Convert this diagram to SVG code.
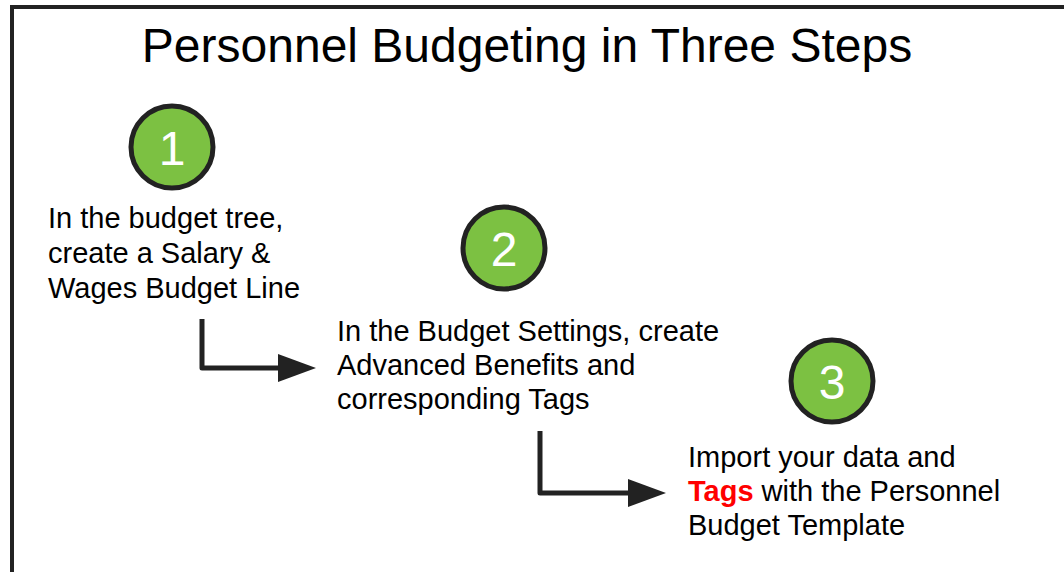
<svg xmlns="http://www.w3.org/2000/svg" width="1064" height="572" viewBox="0 0 1064 572">
  <style>
    .title { font-family: "Liberation Sans", Arial, sans-serif; font-size: 48px; fill: #000; }
    .label { font-family: "Liberation Sans", Arial, sans-serif; font-size: 29px; fill: #000; }
    .num { font-family: "Liberation Sans", Arial, sans-serif; font-size: 48px; fill: #fff; text-anchor: middle; }
    .badge { fill: #7cc142; stroke: #222; stroke-width: 5; }
    .conn { fill: none; stroke: #222; stroke-width: 5; stroke-linejoin: round; }
    .tag { fill: #ff0000; font-weight: bold; }
  </style>
  <defs>
    <marker id="arrow" markerUnits="userSpaceOnUse" markerWidth="40" markerHeight="30" refX="2" refY="14" orient="auto">
      <path d="M0,0 L38,14 L0,28 Z" fill="#222"/>
    </marker>
  </defs>

  <rect width="1064" height="572" fill="#fff"/>
  <!-- frame, open to the right and bottom -->
  <rect x="12" y="7" width="1080" height="600" fill="none" stroke="#222" stroke-width="4"/>

  <text class="title" x="527" y="62" text-anchor="middle">Personnel Budgeting in Three Steps</text>

  <g id="step1">
    <circle class="badge" cx="172" cy="147" r="41"/>
    <text class="num" x="172" y="165">1</text>
    <text class="label" x="48" y="228">In the budget tree,</text>
    <text class="label" x="48" y="263">create a Salary &amp;</text>
    <text class="label" x="48" y="298">Wages Budget Line</text>
  </g>

  <g id="step2">
    <circle class="badge" cx="504" cy="248" r="41"/>
    <text class="num" x="504" y="266">2</text>
    <text class="label" x="337" y="341">In the Budget Settings, create</text>
    <text class="label" x="337" y="375">Advanced Benefits and</text>
    <text class="label" x="337" y="409">corresponding Tags</text>
  </g>

  <g id="step3">
    <circle class="badge" cx="832" cy="381" r="41"/>
    <text class="num" x="832" y="399">3</text>
    <text class="label" x="688" y="467">Import your data and</text>
    <text class="label" x="688" y="501"><tspan class="tag">Tags</tspan> with the Personnel</text>
    <text class="label" x="688" y="535">Budget Template</text>
  </g>

  <g id="connectors">
    <path class="conn" d="M202,319 L202,368 L280,368" marker-end="url(#arrow)"/>
    <path class="conn" d="M540,431 L540,493 L630,493" marker-end="url(#arrow)"/>
  </g>
</svg>
